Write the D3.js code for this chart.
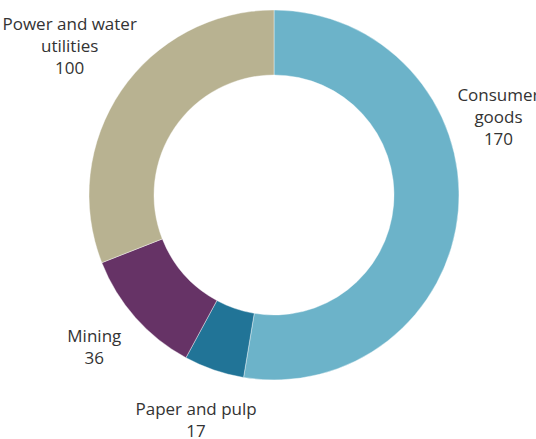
<!DOCTYPE html>
<html><head><meta charset="utf-8">
<script src="https://cdn.jsdelivr.net/npm/d3@7"></script>
<style>body{margin:0;background:#fff;}svg{display:block;}</style>
</head><body>
<script>
const categories = ["Consumer goods", "Paper and pulp", "Mining", "Power and water utilities"];
const labelLines = [["Consumer", "goods"], ["Paper and pulp"], ["Mining"], ["Power and water", "utilities"]];
const values = [170, 17, 36, 100];
const colors = ["#6cb3c9", "#217497", "#663366", "#b8b291"];
const labelAngleNudge = [-0.42, 0, 0, 0];
const labelShift = [[-2, 1], [0, -2], [0, -7], [-6, -14]];

const W = 536, H = 439;
const cx = 274, cy = 195, R = 185, r = 120, LR = 240;
const svg = d3.select("body").append("svg").attr("width", W).attr("height", H);
const g = svg.append("g").attr("transform", `translate(${cx},${cy})`);
const data = categories.map((c, i) => ({c, v: values[i], i}));
const pie = d3.pie().value(d => d.v).sort(null);
const arc = d3.arc().innerRadius(r).outerRadius(R);
const arcs = pie(data);
g.selectAll("path").data(arcs).join("path")
  .attr("d", arc).attr("fill", d => colors[d.data.i])
  .attr("stroke", "#fff").attr("stroke-width", 0.4);

const lh = 22;
arcs.forEach(a => {
  const ang = (a.startAngle + a.endAngle) / 2 + labelAngleNudge[a.data.i];
  const x = LR * Math.sin(ang) + labelShift[a.data.i][0];
  const y = -LR * Math.cos(ang) + labelShift[a.data.i][1];
  const lines = labelLines[a.data.i].concat([String(a.data.v)]);
  const n = lines.length;
  const t = g.append("text").attr("text-anchor", "middle")
    .attr("font-family", "'Open Sans', sans-serif").attr("font-size", 17)
    .attr("fill", "#333");
  lines.forEach((s, k) => {
    t.append("tspan").attr("x", x).attr("y", y + (k - (n - 1) / 2) * lh + 6).text(s);
  });
});
</script>
</body></html>
